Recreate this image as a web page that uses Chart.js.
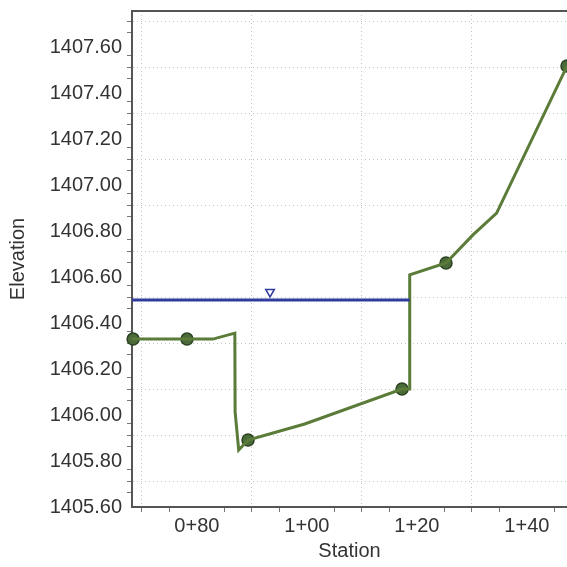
<!DOCTYPE html>
<html>
<head>
<meta charset="utf-8">
<script src="https://cdn.jsdelivr.net/npm/chart.js@4"></script>
<style>
  body { margin: 0; background: #fff; overflow: hidden; }
</style>
</head>
<body>
<canvas id="chart" width="567" height="567"></canvas>
<script>
// ground profile (station, elevation)
const groundStations = [68.2, 78.2, 82.9, 86.9, 86.95, 87.6, 89.3, 99.6, 117.3, 118.7, 118.7, 125.3, 130.2, 134.5, 147.3];
const groundElev = [1406.317, 1406.317, 1406.317, 1406.343, 1406.0, 1405.835, 1405.878, 1405.948, 1406.10, 1406.10, 1406.596, 1406.648, 1406.77, 1406.865, 1407.504];

// surveyed points shown with markers
const markerStations = [68.4, 78.2, 89.3, 117.3, 125.3, 147.3];
const markerElev = [1406.317, 1406.317, 1405.878, 1406.10, 1406.648, 1407.504];

// water surface
const wsStations = [68.2, 118.7];
const wsElev = [1406.487, 1406.487];
const wsSymbolStation = 93.3;
const wsSymbolElev = 1406.522;

// tick labels
const xLabelStations = [80, 100, 120, 140];
const yLabelElev = [1405.6, 1405.8, 1406.0, 1406.2, 1406.4, 1406.6, 1406.8, 1407.0, 1407.2, 1407.4, 1407.6];

function toPts(xs, ys) {
    return xs.map((x, i) => ({ x: x, y: ys[i] }));
}

function stationLabel(v) {
    return Math.floor(v / 100) + '+' + String(v % 100).padStart(2, '0');
}

const font = { family: '"Liberation Sans", Arial, sans-serif', size: 20 };
const axisColor = '#555';
const gridColor = '#c4c4c4';

// draws the top frame line
const topFrame = {
    id: 'topFrame',
    afterDraw(chart) {
        const a = chart.chartArea;
        const c = chart.ctx;
        c.save();
        c.strokeStyle = axisColor;
        c.lineWidth = 2;
        c.beginPath();
        c.moveTo(a.left - 1, a.top);
        c.lineTo(a.right, a.top);
        c.stroke();
        c.restore();
    }
};

new Chart(document.getElementById('chart'), {
    type: 'scatter',
    data: {
        datasets: [
            {
                data: toPts(wsStations, wsElev),
                showLine: true,
                borderColor: '#2f3c9e',
                borderWidth: 3,
                pointRadius: 0
            },
            {
                data: [{ x: wsSymbolStation, y: wsSymbolElev }],
                pointStyle: 'triangle',
                rotation: 180,
                pointRadius: 5,
                backgroundColor: '#ffffff',
                borderColor: '#2f3c9e',
                borderWidth: 1.5
            },
            {
                data: toPts(groundStations, groundElev),
                showLine: true,
                borderColor: '#5b7b38',
                borderWidth: 3,
                pointRadius: 0
            },
            {
                data: toPts(markerStations, markerElev),
                pointRadius: 6,
                backgroundColor: '#4b6a3a',
                borderColor: '#2c4322',
                borderWidth: 1.5,
                clip: false
            }
        ]
    },
    options: {
        responsive: false,
        animation: false,
        layout: { autoPadding: false, padding: { top: 11, right: 0, left: 0, bottom: 0 } },
        plugins: { legend: { display: false }, tooltip: { enabled: false } },
        scales: {
            x: {
                type: 'linear',
                min: 68.2,
                max: 147.3,
                afterBuildTicks: scale => {
                    const t = [];
                    for (let v = 70; v <= 145; v += 5) t.push({ value: v });
                    scale.ticks = t;
                },
                afterFit: scale => {
                    scale.height = 60;
                    scale.paddingLeft = 0;
                    scale.paddingRight = 0;
                },
                ticks: {
                    autoSkip: false,
                    maxRotation: 0,
                    padding: 2,
                    color: '#333',
                    font: font,
                    callback: v => xLabelStations.includes(v) ? stationLabel(v) : ''
                },
                grid: {
                    color: ctx => (ctx.tick && ctx.tick.value % 10 === 0 && ctx.tick.value % 20 !== 0) ? gridColor : 'rgba(0,0,0,0)',
                    tickColor: ctx => (ctx.tick && ctx.tick.value % 20 === 0) ? 'rgba(0,0,0,0)' : '#777',
                    tickLength: 5,
                    tickBorderDash: [],
                    lineWidth: 1
                },
                border: { color: axisColor, width: 2, dash: [1, 3] },
                title: {
                    display: true,
                    text: 'Station',
                    color: '#333',
                    font: font,
                    padding: { top: 0, bottom: 4 }
                }
            },
            y: {
                type: 'linear',
                min: 1405.587,
                max: 1407.7435,
                afterBuildTicks: scale => {
                    const t = [];
                    for (let k = 28112; k <= 28154; k++) t.push({ value: k / 20 });
                    scale.ticks = t;
                },
                afterFit: scale => {
                    scale.width = 132;
                    scale.paddingTop = 0;
                    scale.paddingBottom = 0;
                },
                ticks: {
                    autoSkip: false,
                    padding: 5,
                    labelOffset: 3,
                    color: '#333',
                    font: font,
                    callback: v => yLabelElev.some(e => Math.abs(e - v) < 1e-6) ? v.toFixed(2) : ''
                },
                grid: {
                    color: ctx => {
                        if (!ctx.tick) return 'rgba(0,0,0,0)';
                        const k = Math.round(ctx.tick.value * 100);
                        return (k % 10 === 0 && k % 20 !== 0) ? gridColor : 'rgba(0,0,0,0)';
                    },
                    tickColor: ctx => {
                        if (!ctx.tick) return '#777';
                        const k = Math.round(ctx.tick.value * 100);
                        return k % 20 === 0 ? 'rgba(0,0,0,0)' : '#777';
                    },
                    tickLength: 5,
                    tickBorderDash: [],
                    lineWidth: 1
                },
                border: { color: axisColor, width: 2, dash: [1, 3] },
                title: {
                    display: true,
                    text: 'Elevation',
                    color: '#333',
                    font: font,
                    padding: { top: 6, bottom: 0 }
                }
            }
        }
    },
    plugins: [topFrame]
});
</script>
</body>
</html>
